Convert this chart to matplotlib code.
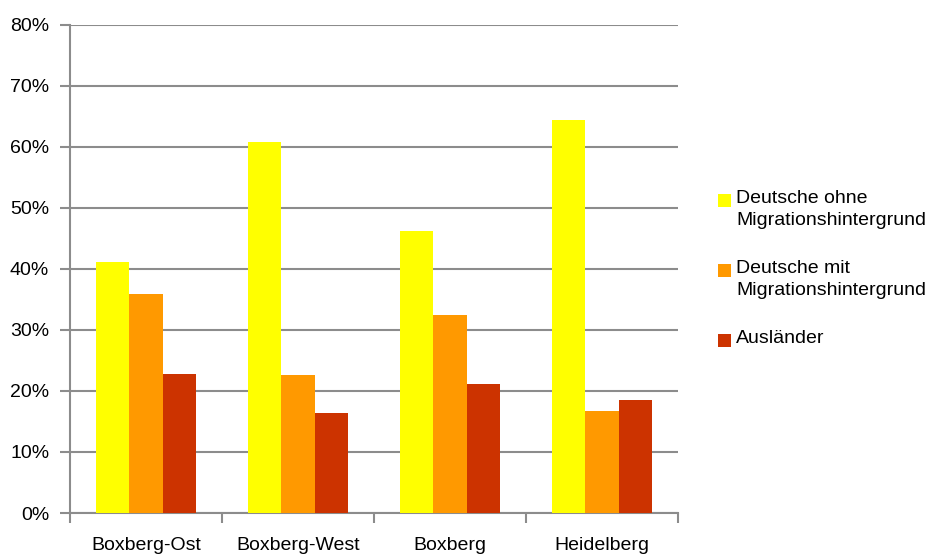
import matplotlib
matplotlib.use("Agg")
import matplotlib.pyplot as plt
from matplotlib.patches import Rectangle
import numpy as np

categories = ["Boxberg-Ost", "Boxberg-West", "Boxberg", "Heidelberg"]
series_names = ["Deutsche ohne\nMigrationshintergrund",
                "Deutsche mit\nMigrationshintergrund",
                "Ausländer"]
deutsche_ohne = [41.2, 60.8, 46.2, 64.5]
deutsche_mit = [35.9, 22.7, 32.5, 16.8]
auslaender = [22.8, 16.4, 21.1, 18.5]
colors = ["#FFFF00", "#FF9900", "#CC3300"]
yticks = [0, 10, 20, 30, 40, 50, 60, 70, 80]

plt.rcParams['font.family'] = ['Liberation Sans', 'DejaVu Sans']
FS = 14

W, H = 928, 554
fig = plt.figure(figsize=(W / 100, H / 100), dpi=100)
ax = fig.add_axes([70 / W, 1 - 513 / H, (678 - 70) / W, (513 - 25) / H])

x = np.arange(len(categories))
bw = 0.22
for i, vals in enumerate([deutsche_ohne, deutsche_mit, auslaender]):
    ax.bar(x + (i - 1) * bw, vals, width=bw, color=colors[i], zorder=3)

ax.set_xlim(-0.5, len(categories) - 0.5)
ax.set_ylim(0, 80)
ax.set_yticks(yticks)
ax.set_yticklabels([f"{v}%" for v in yticks], fontsize=FS)
ax.yaxis.grid(True, color="#8c8c8c", linewidth=1.5, zorder=0)
ax.set_axisbelow(True)

ax.set_xticks(x)
ax.set_xticklabels(categories, fontsize=FS)
ax.set_xticks(np.arange(len(categories) + 1) - 0.5, minor=True)
ax.tick_params(axis="x", which="major", length=0, pad=17)
ax.tick_params(axis="x", which="minor", length=7, width=1.5, color="#8c8c8c", direction="out")
ax.tick_params(axis="y", length=7, width=1.5, color="#8c8c8c", pad=8)

for s in ["top", "right"]:
    ax.spines[s].set_visible(False)
for s in ["left", "bottom"]:
    ax.spines[s].set_color("#8c8c8c")
    ax.spines[s].set_linewidth(1.5)

# Legend (handles aligned to first text line)
entry_tops = [193, 263, 333]
for name, col, top in zip(series_names, colors, entry_tops):
    fig.patches.append(Rectangle((718 / W, 1 - (top + 14) / H), 13 / W, 13 / H,
                                 transform=fig.transFigure, facecolor=col,
                                 edgecolor="none"))
    fig.text(736 / W, 1 - (top - 3) / H, name, fontsize=FS, va="top", ha="left",
             linespacing=1.35)

fig.savefig("out.png", dpi=100)
